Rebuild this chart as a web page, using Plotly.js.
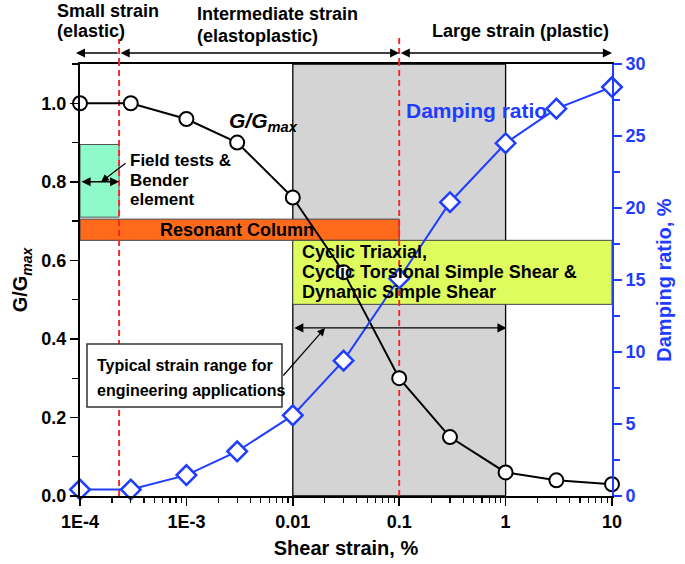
<!DOCTYPE html>
<html><head><meta charset="utf-8">
<script src="https://cdn.plot.ly/plotly-3.0.1.min.js"></script>
<style>html,body{margin:0;padding:0;background:#fff}</style>
</head><body><div id="chart" style="width:685px;height:564px"></div>
<script>
// ---- data ----
const strain = [0.0001, 0.0003, 0.001, 0.003, 0.01, 0.03, 0.1, 0.3, 1, 3, 10];
const gRatio = [1.0, 1.0, 0.96, 0.90, 0.76, 0.57, 0.30, 0.15, 0.06, 0.04, 0.03];
const damping = [0.45, 0.45, 1.45, 3.1, 5.6, 9.4, 15.1, 20.4, 24.5, 26.9, 28.4];
const xTickVals = [0.0001, 0.001, 0.01, 0.1, 1, 10];
const xTickText = ['1E-4', '1E-3', '0.01', '0.1', '1', '10'];
const yTickVals = [0, 0.2, 0.4, 0.6, 0.8, 1.0];
const y2TickVals = [0, 5, 10, 15, 20, 25, 30];
// strain-range boundaries and test-method ranges
const smallLimit = 0.000233;
const largeLimit = 0.1;
const xMin = 0.0001, xMax = 10;
const typicalRange = [0.01, 1];
const fieldRange = [0.0001, 0.000233];
const fieldG = [0.71, 0.895];
const resonantRange = [0.0001, 0.1];
const resonantG = [0.651, 0.705];
const cyclicRange = [0.01, 10];
const cyclicG = [0.488, 0.651];
const fieldArrowG = 0.8;
const typicalArrowG = 0.428;

// minor log ticks (2..9 in each decade)
const xMinorVals = [];
for (let d = -4; d <= 0; d++) for (let k = 2; k <= 9; k++) xMinorVals.push(k * Math.pow(10, d));

// ---- style ----
const F = 'Liberation Sans, Arial, Helvetica, sans-serif';
const BLUE = '#1f3dff';
const RED = '#ff2222';
const L = 80, T = 64, W = 532, H = 432;
const px = x => (x - L) / W;
const py = y => (T + H - y) / H;
const lg = Math.log10;

function txt(text, x, y, size, extra) {
  return Object.assign({
    text: text, xref: 'paper', yref: 'paper', x: px(x), y: py(y),
    xanchor: 'left', yanchor: 'middle', showarrow: false,
    font: {family: F, size: size, weight: 'bold', color: '#000'}
  }, extra || {});
}
function hArrow(xHead, xTail, yv, yref, side) {
  return {
    text: '', xref: 'x', yref: yref, x: lg(xHead), y: yv,
    axref: 'x', ax: lg(xTail), ayref: 'pixel', ay: 0,
    showarrow: true, arrowhead: 2, startarrowhead: 2, arrowside: side,
    arrowsize: 1.3, startarrowsize: 1.3, arrowwidth: 1.4, arrowcolor: '#000',
    standoff: 0, startstandoff: 0
  };
}

const traces = [
  {
    x: strain, y: gRatio, type: 'scatter', mode: 'lines+markers', yaxis: 'y',
    line: {color: '#000', width: 2},
    marker: {symbol: 'circle', size: 14, color: '#fff', line: {color: '#000', width: 2}},
    cliponaxis: false, hoverinfo: 'skip'
  },
  {
    x: strain, y: damping, type: 'scatter', mode: 'lines+markers', yaxis: 'y2',
    line: {color: BLUE, width: 2},
    marker: {symbol: 'diamond', size: 15, color: '#fff', line: {color: BLUE, width: 2.5}},
    cliponaxis: false, hoverinfo: 'skip'
  }
];

const dashRed = {color: RED, width: 1.9, dash: '6px,4px'};
const shapes = [
  {type: 'rect', xref: 'x', yref: 'y', x0: typicalRange[0], x1: typicalRange[1], y0: 0, y1: 1.1,
   fillcolor: '#d4d4d4', line: {color: '#000', width: 1.3}, layer: 'below'},
  {type: 'rect', xref: 'x', yref: 'y', x0: fieldRange[0], x1: fieldRange[1], y0: fieldG[0], y1: fieldG[1],
   fillcolor: '#8ef9c9', line: {color: '#555', width: 1}, layer: 'below'},
  {type: 'rect', xref: 'x', yref: 'y', x0: resonantRange[0], x1: resonantRange[1], y0: resonantG[0], y1: resonantG[1],
   fillcolor: '#ff6a1a', line: {color: '#444', width: 1}, layer: 'below'},
  {type: 'rect', xref: 'x', yref: 'y', x0: cyclicRange[0], x1: cyclicRange[1], y0: cyclicG[0], y1: cyclicG[1],
   fillcolor: '#dffc5e', line: {color: '#444', width: 1}, layer: 'below'},
  {type: 'line', xref: 'x', yref: 'y', x0: smallLimit, x1: smallLimit, y0: 0, y1: 1.1, line: dashRed, layer: 'below'},
  {type: 'line', xref: 'x', yref: 'y', x0: largeLimit, x1: largeLimit, y0: 0, y1: 1.1, line: dashRed, layer: 'below'},
  {type: 'line', xref: 'x', yref: 'paper', x0: smallLimit, x1: smallLimit, y0: 1, y1: py(39), line: dashRed, layer: 'above'},
  {type: 'line', xref: 'x', yref: 'paper', x0: largeLimit, x1: largeLimit, y0: 1, y1: py(37), line: dashRed, layer: 'above'},
  {type: 'rect', xref: 'paper', yref: 'paper', x0: px(87), x1: px(282), y0: py(407), y1: py(344),
   fillcolor: '#fff', line: {color: '#333', width: 1.5}, layer: 'above'}
];

const topY = py(53);
const annotations = [
  txt('Small strain', 55, 11, 18),
  txt('(elastic)', 55, 31, 18),
  txt('Intermediate strain', 195, 14, 18),
  txt('(elastoplastic)', 195, 36, 18),
  txt('Large strain (plastic)', 430, 31, 18),
  hArrow(0.0000915, smallLimit, topY, 'paper', 'end'),
  hArrow(largeLimit, smallLimit, topY, 'paper', 'end+start'),
  hArrow(xMax, largeLimit, topY, 'paper', 'end+start'),
  txt('<i>G/G<sub>max</sub></i>', 227, 122, 21),
  txt('Damping ratio', 404, 110, 21, {font: {family: F, size: 21, weight: 'bold', color: BLUE}}),
  txt('Field tests &', 128, 160, 17),
  txt('Bender', 128, 180, 17),
  txt('element', 128, 199, 17),
  hArrow(smallLimit, xMin, fieldArrowG, 'y', 'end+start'),
  {text: '', xref: 'paper', yref: 'paper', x: px(101), y: py(182), ax: 26, ay: -20,
   axref: 'pixel', ayref: 'pixel', showarrow: true, arrowhead: 2, arrowsize: 1.3,
   arrowwidth: 1.2, arrowcolor: '#000', standoff: 0},
  txt('Resonant Column', 237, 230, 18, {xanchor: 'center'}),
  txt('Cyclic Triaxial,', 300, 252, 18),
  txt('Cyclic Torsional Simple Shear &', 300, 272, 18),
  txt('Dynamic Simple Shear', 300, 292, 18),
  hArrow(1.02, typicalRange[0], typicalArrowG, 'y', 'end+start'),
  {text: '', xref: 'paper', yref: 'paper', x: px(325), y: py(328), ax: -43, ay: 49,
   axref: 'pixel', ayref: 'pixel', showarrow: true, arrowhead: 2, arrowsize: 1.3,
   arrowwidth: 1.2, arrowcolor: '#000', standoff: 0},
  txt('Typical strain range for', 95, 365, 16),
  txt('engineering applications', 95, 390, 16)
];

const tickFont = {family: F, size: 18, weight: 'bold', color: '#000'};
const layout = {
  width: 685, height: 564,
  margin: {l: L, r: 685 - L - W, t: T, b: 564 - T - H, pad: 0},
  paper_bgcolor: '#fff', plot_bgcolor: 'rgba(0,0,0,0)',
  showlegend: false,
  xaxis: {
    type: 'log', range: [lg(xMin), lg(xMax)],
    tickvals: xTickVals, ticktext: xTickText, tickfont: tickFont,
    ticks: 'outside', ticklen: 8, tickwidth: 1.5, tickcolor: '#000',
    minor: {tickmode: 'array', tickvals: xMinorVals, ticks: 'outside', ticklen: 5, tickwidth: 1.2, tickcolor: '#000', showgrid: false},
    showline: true, linecolor: '#000', linewidth: 2, mirror: true,
    showgrid: false, zeroline: false,
    title: {text: 'Shear strain, %', font: {family: F, size: 20, weight: 'bold', color: '#000'}, standoff: 10}
  },
  yaxis: {
    range: [0, 1.1], tickvals: yTickVals, tickformat: '.1f', tickfont: tickFont,
    ticks: 'outside', ticklen: 8, tickwidth: 1.5, tickcolor: '#000',
    minor: {ticks: 'outside', ticklen: 6, tickwidth: 1.2, tickcolor: '#000', dtick: 0.1, showgrid: false},
    showline: true, linecolor: '#000', linewidth: 2,
    showgrid: false, zeroline: false,
    title: {text: 'G/G<sub><i>max</i></sub>', font: {family: F, size: 20, weight: 'bold', color: '#000'}, standoff: 8}
  },
  yaxis2: {
    overlaying: 'y', side: 'right', range: [0, 30], tickvals: y2TickVals,
    tickfont: {family: F, size: 18, weight: 'bold', color: BLUE},
    ticks: 'outside', ticklen: 8, tickwidth: 1.5, tickcolor: BLUE,
    minor: {ticks: 'outside', ticklen: 6, tickwidth: 1.2, tickcolor: BLUE, dtick: 2.5, showgrid: false},
    showline: true, linecolor: BLUE, linewidth: 2,
    showgrid: false, zeroline: false,
    title: {text: 'Damping ratio, %', font: {family: F, size: 20, weight: 'bold', color: BLUE}, standoff: 12}
  },
  shapes: shapes,
  annotations: annotations
};

Plotly.newPlot('chart', traces, layout, {staticPlot: true, displayModeBar: false});
</script></body></html>
